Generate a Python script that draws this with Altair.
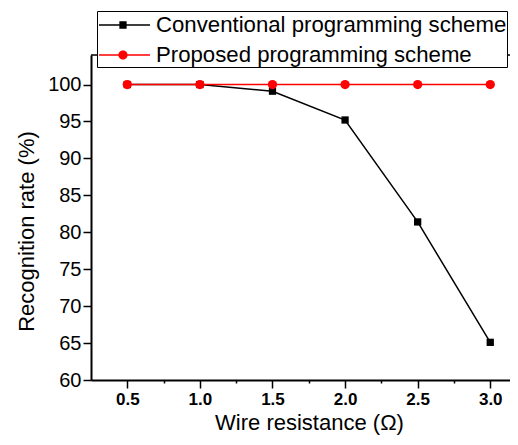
import altair as alt
import pandas as pd

wire_resistance = [0.5, 1.0, 1.5, 2.0, 2.5, 3.0]
conventional = [100, 100, 99.1, 95.2, 81.4, 65.1]
proposed = [100, 100, 100, 100, 100, 100]
series_names = ["Conventional programming scheme", "Proposed programming scheme"]
series_colors = ["#000000", "#ff0000"]

x_ticks = [0.5, 0.75, 1.0, 1.25, 1.5, 1.75, 2.0, 2.25, 2.5, 2.75, 3.0]
y_ticks = [60, 62.5, 65, 67.5, 70, 72.5, 75, 77.5, 80, 82.5, 85, 87.5, 90, 92.5, 95, 97.5, 100, 102.5]
x_domain = [0.25, 3.136]
y_domain = [60, 104]

rows = []
for x, v in zip(wire_resistance, conventional):
    rows.append({"x": x, "y": v, "series": series_names[0]})
for x, v in zip(wire_resistance, proposed):
    rows.append({"x": x, "y": v, "series": series_names[1]})
df = pd.DataFrame(rows)

FONT = "Liberation Sans"

# legend symbols: line + marker in one custom path (unit = sqrt(size)/2)
conv_path = ("M-0.857,-0.054H0.597V0.054H-0.857Z "
             "M1.117,-0.054H2.786V0.054H1.117Z "
             "M0.597,-0.26H1.117V0.26H0.597Z")
prop_path = ("M-0.857,-0.054H0.53V0.054H-0.857Z "
             "M1.184,-0.054H2.786V0.054H1.184Z "
             "M1.187,0A0.33,0.33 0 1,1 0.527,0A0.33,0.33 0 1,1 1.187,0Z")

xscale = alt.Scale(domain=x_domain, nice=False, zero=False)
yscale = alt.Scale(domain=y_domain, nice=False, zero=False)

x_axis = alt.Axis(
    values=x_ticks,
    labelExpr="(datum.value*2) % 1 === 0 ? format(datum.value, '.1f') : ''",
    tickSize={"condition": {"test": "(datum.value*2) % 1 === 0", "value": 8}, "value": 3},
    labelFont=FONT, labelFontSize=17, labelFontWeight="bold", labelColor="black",
    labelPadding=3,
    domainColor="black", domainWidth=2, tickColor="black", tickWidth=1.5,
    grid=False,
    title="Wire resistance (Ω)", titleFont=FONT, titleFontSize=22,
    titleFontWeight="normal", titleColor="black",
    titleX=218, titleY=49, titleBaseline="alphabetic", titleAlign="center",
)
y_axis = alt.Axis(
    values=y_ticks,
    labelExpr="datum.value % 5 === 0 ? format(datum.value, 'd') : ''",
    tickSize={"condition": {"test": "datum.value % 5 === 0", "value": 8}, "value": 4},
    labelFont=FONT, labelFontSize=20, labelColor="black", labelPadding=2,
    domainColor="black", domainWidth=2, tickColor="black", tickWidth=1.5,
    grid=False,
    title="Recognition rate (%)", titleFont=FONT, titleFontSize=22,
    titleFontWeight="normal", titleColor="black",
    titleAngle=270, titleX=-58, titleY=176, titleBaseline="alphabetic",
    titleAlign="center",
)

base = alt.Chart(df)
conv = base.transform_filter(alt.datum.series == series_names[0])
prop = base.transform_filter(alt.datum.series == series_names[1])

# top frame line along the upper end of the y domain
top_frame = alt.Chart(pd.DataFrame({"a": [0]})).mark_rule(
    color="black", strokeWidth=1.5
).encode(
    x=alt.X("x0:Q", scale=xscale, axis=x_axis),
    x2="x1:Q",
    y=alt.Y("y0:Q", scale=yscale, axis=y_axis),
).transform_calculate(
    x0=str(x_domain[0]), x1=str(x_domain[1]), y0=str(y_domain[1])
)

conv_line = conv.mark_line(color=series_colors[0], strokeWidth=1.5).encode(
    x=alt.X("x:Q", scale=xscale),
    y=alt.Y("y:Q", scale=yscale),
)
conv_pts = conv.mark_point(filled=True, shape="square", size=53, opacity=1,
                           color=series_colors[0]).encode(
    x=alt.X("x:Q", scale=xscale),
    y=alt.Y("y:Q", scale=yscale),
)
prop_line = prop.mark_line(color=series_colors[1], strokeWidth=1.5).encode(
    x=alt.X("x:Q", scale=xscale),
    y=alt.Y("y:Q", scale=yscale),
)
prop_pts = prop.mark_point(filled=True, shape="circle", size=86, opacity=1,
                           color=series_colors[1]).encode(
    x=alt.X("x:Q", scale=xscale),
    y=alt.Y("y:Q", scale=yscale),
)

legend_props = dict(
    orient="none", legendX=6, legendY=-44, padding=0,
    title=None, fillColor="white", strokeColor="black",
    labelFont=FONT, labelFontSize=22.2, labelColor="black",
    labelLimit=1000, labelOffset=31, rowPadding=4,
    symbolSize=784, symbolStrokeWidth=0, symbolOpacity=1,
)
legend_layer = base.transform_filter("false").mark_point(
    filled=True, size=784, opacity=1
).encode(
    color=alt.Color("series:N",
                    scale=alt.Scale(domain=series_names, range=series_colors),
                    legend=alt.Legend(**legend_props)),
    shape=alt.Shape("series:N",
                    scale=alt.Scale(domain=series_names, range=[conv_path, prop_path]),
                    legend=alt.Legend(**legend_props)),
)

chart = alt.layer(top_frame, conv_line, conv_pts, prop_line, prop_pts, legend_layer).properties(
    width=419, height=325,
    autosize=alt.AutoSizeParams(type="none"),
    padding={"left": 83, "top": 47, "right": 0, "bottom": 56},
).configure_view(stroke=None).configure(background="white")

chart.save("out.html", embed_options={"renderer": "svg", "actions": False})
